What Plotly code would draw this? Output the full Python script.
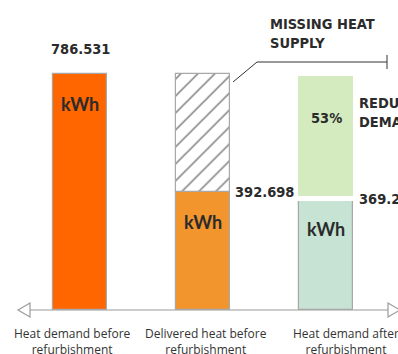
import plotly.graph_objects as go

# ---- data -------------------------------------------------------------
categories = [
    "Heat demand before refurbishment",
    "Delivered heat before refurbishment",
    "Heat demand after refurbishment",
]
tick_text = [
    "Heat demand before<br>refurbishment",
    "Delivered heat before<br>refurbishment",
    "Heat demand after<br>refurbishment",
]
heat_demand_before = 786.531
delivered_heat_before = 392.698
heat_demand_after = 369.2
reduction_pct = 53
main_values = [heat_demand_before, delivered_heat_before, heat_demand_after]
unit = "kWh"

# ---- styling ------------------------------------------------------------
W, H = 398, 354
M_L, M_R, M_T, M_B = 0, 0, 0, 44
PLOT_H = H - M_T - M_B
COND = "DejaVu Sans Condensed"
DARK = "#2b2b2b"
GREY = "#a8a8a8"
bar_colors = ["#ff6600", "#f2952d", "#c6e3d4"]
bar_w = 0.447


def px_x(p):
    return p / W


def px_y(p):
    return 1 - (p - M_T) / PLOT_H


def cond_font(size=14.5):
    return dict(family=COND, size=size, color=DARK, weight="bold")


fig = go.Figure()

# measured quantities
fig.add_trace(go.Bar(
    x=categories, y=main_values, width=bar_w,
    marker=dict(color=bar_colors, line=dict(color=GREY, width=1.2)),
    hoverinfo="skip", showlegend=False,
))
# missing heat supply (hatched)
fig.add_trace(go.Bar(
    x=[categories[1]], y=[heat_demand_before - delivered_heat_before],
    base=[delivered_heat_before], width=bar_w,
    marker=dict(color="white", line=dict(color=GREY, width=1.2),
                pattern=dict(shape="/", fgcolor="#000000", bgcolor="white",
                             size=12, solidity=0.13)),
    hoverinfo="skip", showlegend=False,
))
# reduced demand
fig.add_trace(go.Bar(
    x=[categories[2]], y=[heat_demand_before - heat_demand_after],
    base=[heat_demand_after], width=bar_w + 0.04,
    marker=dict(color="#d4ebc0", line=dict(color="white", width=5)),
    hoverinfo="skip", showlegend=False,
))

ann = []
# value labels
ann.append(dict(x=categories[0], y=heat_demand_before, text=f"{heat_demand_before:.3f}",
                yanchor="bottom", yshift=15, showarrow=False, font=cond_font()))
ann.append(dict(x=categories[1], y=delivered_heat_before, text=f"{delivered_heat_before:.3f}",
                xanchor="left", yanchor="middle", xshift=bar_w * 123 / 2 + 3, showarrow=False,
                font=cond_font()))
ann.append(dict(x=categories[2], y=heat_demand_after, text=f"{heat_demand_after:.3f}",
                xanchor="left", yanchor="middle", xshift=bar_w * 123 / 2 + 4, showarrow=False,
                font=cond_font()))
# unit labels inside bars
for cat, v in zip(categories, main_values):
    ann.append(dict(x=cat, y=v, text=unit, yanchor="middle", yshift=-30, showarrow=False,
                    font=dict(family="Lato", size=18, color=DARK, weight="bold")))
ann.append(dict(x=categories[2], y=heat_demand_before, text=f"{reduction_pct}%",
                yanchor="middle", yshift=-44, showarrow=False, font=cond_font()))
# callouts
ann.append(dict(xref="paper", yref="paper", x=px_x(268), y=px_y(14), text="MISSING HEAT<br>SUPPLY",
                xanchor="left", yanchor="top", align="left", showarrow=False,
                font=cond_font()))
ann.append(dict(xref="paper", yref="paper", x=px_x(357), y=px_y(112), text="REDUCED<br>DEMAND",
                xanchor="left", yanchor="middle", align="left", showarrow=False,
                font=cond_font()))
# category labels
for cat, txt, dx in zip(categories, tick_text, [-8, 3, 20]):
    ann.append(dict(x=cat, y=0, text=txt, yanchor="top", yshift=-13, xshift=dx,
                    showarrow=False,
                    font=dict(family="Open Sans", size=12, color="#333333")))

shapes = []
# baseline axis with hollow arrowheads
shapes.append(dict(type="line", xref="paper", yref="paper", x0=px_x(30), x1=px_x(388),
                   y0=0, y1=0, line=dict(color="#9a9a9a", width=1.2), layer="below"))
a = 7 / PLOT_H
shapes.append(dict(type="path", xref="paper", yref="paper",
                   path=f"M {px_x(18)},0 L {px_x(30)},{a} L {px_x(30)},{-a} Z",
                   line=dict(color="#9a9a9a", width=1.2), fillcolor="white"))
shapes.append(dict(type="path", xref="paper", yref="paper",
                   path=f"M {px_x(400)},0 L {px_x(388)},{a} L {px_x(388)},{-a} Z",
                   line=dict(color="#9a9a9a", width=1.2), fillcolor="white"))
# leader for the missing-supply callout
shapes.append(dict(type="path", xref="paper", yref="paper",
                   path=f"M {px_x(233)},{px_y(82)} L {px_x(257)},{px_y(62)} L {px_x(387)},{px_y(62)}",
                   line=dict(color="#333333", width=1)))
shapes.append(dict(type="line", xref="paper", yref="paper", x0=px_x(387), x1=px_x(387),
                   y0=px_y(55), y1=px_y(69), line=dict(color="#333333", width=1)))

x_min = -80 / 123
fig.update_layout(
    width=W, height=H,
    margin=dict(l=M_L, r=M_R, t=M_T, b=M_B, pad=0),
    paper_bgcolor="white", plot_bgcolor="white",
    barmode="overlay", bargap=0,
    xaxis=dict(type="category", range=[x_min, x_min + W / 123], visible=False,
               fixedrange=True),
    yaxis=dict(range=[0, heat_demand_before * PLOT_H / 236], visible=False,
               fixedrange=True),
    annotations=ann, shapes=shapes,
    showlegend=False,
)
fig.write_html("out.html", config={"displayModeBar": False})
